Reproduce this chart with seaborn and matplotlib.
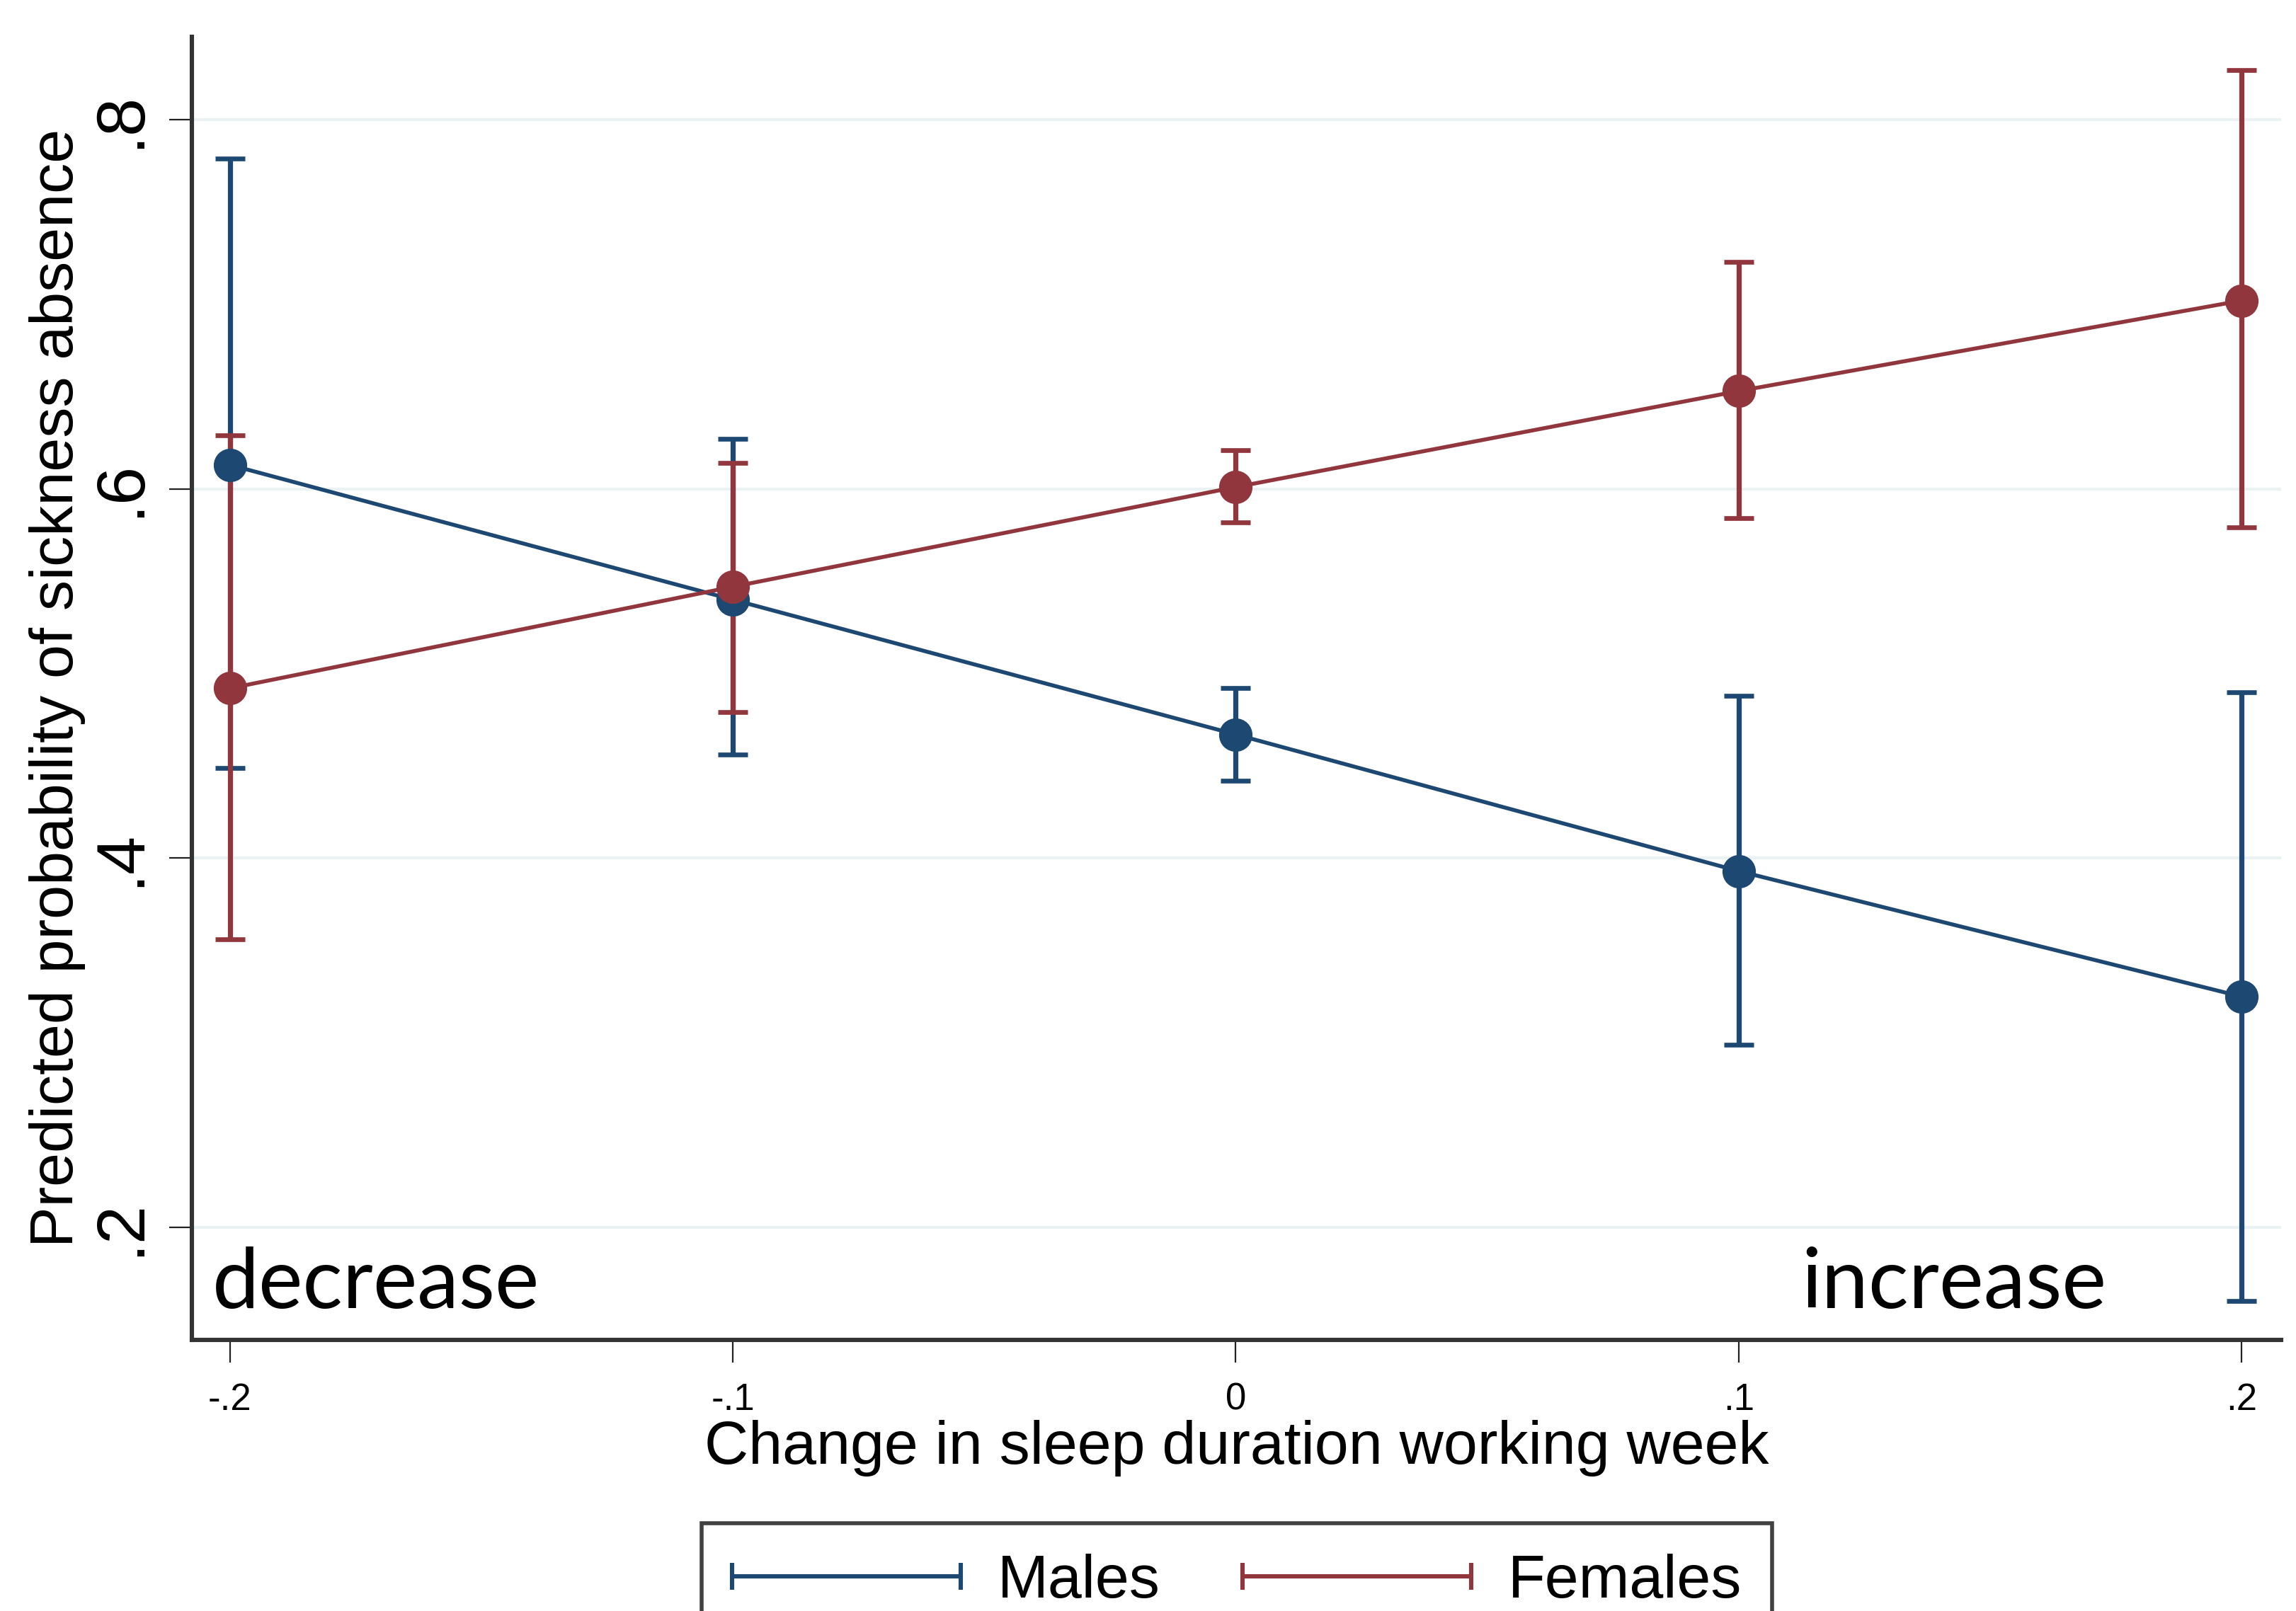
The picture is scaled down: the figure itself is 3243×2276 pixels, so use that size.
import numpy as np
import pandas as pd
import matplotlib
matplotlib.use("Agg")
import matplotlib.pyplot as plt
import seaborn as sns
from matplotlib.lines import Line2D
from matplotlib.legend_handler import HandlerLine2D

# values (marginsplot style)
sleep_change = [-0.2, -0.1, 0.0, 0.1, 0.2]
males_prob = [0.613, 0.540, 0.467, 0.393, 0.325]
males_lo = [0.449, 0.456, 0.442, 0.299, 0.160]
males_hi = [0.779, 0.627, 0.492, 0.488, 0.490]
females_prob = [0.492, 0.547, 0.601, 0.653, 0.702]
females_lo = [0.356, 0.479, 0.582, 0.584, 0.579]
females_hi = [0.629, 0.614, 0.621, 0.723, 0.827]
groups = ["Males", "Females"]
x_ticks = [-0.2, -0.1, 0.0, 0.1, 0.2]
x_tick_labels = ["-.2", "-.1", "0", ".1", ".2"]
y_ticks = [0.2, 0.4, 0.6, 0.8]
y_tick_labels = [".2", ".4", ".6", ".8"]
colors = {"Males": "#1c4872", "Females": "#91363d"}

df = pd.concat([
    pd.DataFrame({"change": sleep_change, "prob": males_prob,
                  "lo": males_lo, "hi": males_hi, "group": "Males"}),
    pd.DataFrame({"change": sleep_change, "prob": females_prob,
                  "lo": females_lo, "hi": females_hi, "group": "Females"}),
], ignore_index=True)

sns.set_style("white")
plt.rcParams["font.family"] = ["Liberation Sans", "DejaVu Sans"]
plt.rcParams["text.color"] = "black"
plt.rcParams["axes.labelcolor"] = "black"
plt.rcParams["xtick.color"] = "black"
plt.rcParams["ytick.color"] = "black"
narrow = ["Liberation Sans Narrow", "Liberation Sans", "DejaVu Sans"]

fig = plt.figure(figsize=(16.215, 11.38), dpi=200)
ax = fig.add_axes([0.0835, 0.1682, 0.9101, 0.8091])

# confidence intervals first, so markers sit on top
for g in groups:
    d = df[df["group"] == g]
    ax.errorbar(d["change"], d["prob"],
                yerr=[d["prob"] - d["lo"], d["hi"] - d["prob"]],
                fmt="none", ecolor=colors[g], elinewidth=2.6, capsize=7.7,
                capthick=2.4, zorder=2)

sns.lineplot(data=df, x="change", y="prob", hue="group", hue_order=groups,
             palette=colors, marker="o", markersize=17, markeredgewidth=0,
             linewidth=2.0, errorbar=None, legend=False, ax=ax, zorder=3)

ax.set_xlim(-0.2076, 0.2079)
ax.set_ylim(0.139, 0.845)

for s in ["top", "right"]:
    ax.spines[s].set_visible(False)
for s in ["left", "bottom"]:
    ax.spines[s].set_color("#333333")
    ax.spines[s].set_linewidth(2.2)

ax.yaxis.grid(True, color="#eaf2f3", linewidth=1.5)
ax.xaxis.grid(False)
ax.set_axisbelow(True)

ax.tick_params(bottom=True, left=True, direction="out", length=11.5,
               width=0.8, color="#222222")
ax.tick_params(axis="x", pad=10)
ax.tick_params(axis="y", pad=8)
ax.set_xticks(x_ticks, x_tick_labels, fontsize=19, family=narrow)
ax.set_yticks(y_ticks, y_tick_labels, fontsize=35, rotation=90, va="center")

ax.set_xlabel("Change in sleep duration working week", fontsize=31, labelpad=1)
ax.set_ylabel("Predicted probability of sickness absence", fontsize=31, labelpad=2)

ax.text(-0.2035, 0.1563, "decrease", fontsize=42.5, family=["Lato", "DejaVu Sans"],
        va="baseline", ha="left")
ax.text(0.1124, 0.1563, "increase", fontsize=42.8, family=["Lato", "DejaVu Sans"],
        va="baseline", ha="left")

handles = [Line2D([], [], color=colors[g], lw=2.2, marker="|", markersize=14,
                  markeredgewidth=2.2) for g in groups]
leg = fig.legend(handles, groups, loc="upper center",
                 bbox_to_anchor=(0.5387, 0.0545), bbox_transform=fig.transFigure,
                 ncol=2, fontsize=31, frameon=True, fancybox=False,
                 edgecolor="#111111", handlelength=3.75, handletextpad=0.6,
                 columnspacing=1.35, borderpad=0.5, borderaxespad=0,
                 handler_map={Line2D: HandlerLine2D(marker_pad=0, numpoints=2)})
leg.get_frame().set_linewidth(2)

fig.savefig("out.png", dpi=200)
